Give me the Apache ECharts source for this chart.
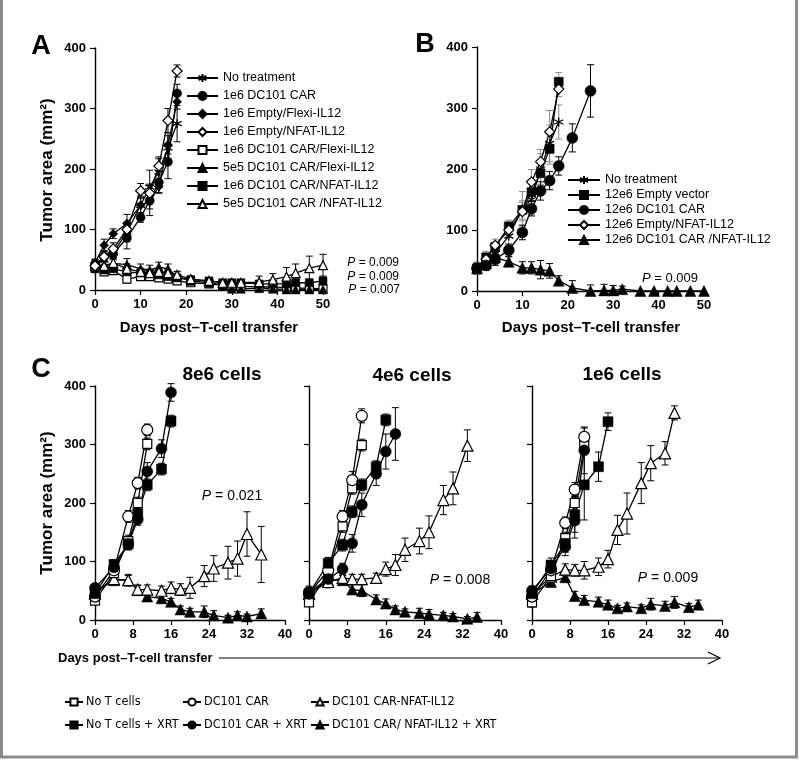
<!DOCTYPE html>
<html><head><meta charset="utf-8">
<script src="https://cdn.jsdelivr.net/npm/echarts@6/dist/echarts.min.js"></script>
<style>html,body{margin:0;padding:0;background:#fff}#c{width:800px;height:761px}</style>
</head><body><div id="c"></div>
<script>
// ---------- Panel A ----------
const aDays = [0,2,4,7,10,12,14,16,18];
const aLongDays = [0,2,4,7,10,12,14,16,18,21,25,28,30,32,36,39,42,44,47,50];
const aNoTreatment = [40,50,62,95,140,170,195,235,275];
const aNoTreatmentErr = [8,8,10,15,15,28,22,25,30];
const aCar = [40,55,60,86,120,148,178,212,325];
const aCarErr = [8,10,10,18,8,25,18,28,15];
const aEmptyFlexi = [45,74,93,110,140,146,171,240,311];
const aEmptyFlexiErr = [6,10,8,15,12,12,10,15,12];
const aEmptyNfat = [40,55,68,100,164,160,205,280,362];
const aEmptyNfatErr = [6,8,10,12,12,15,15,20,10];
const aCarFlexi = [38,30,32,18,22,22,20,18,15,12,10,8,8,6,5,5,4,3,3,2];
const aCarFlexiErr = [6,5,6,6,5,5,5,5,4,4,4,3,3,3,3,3,3,3,3,3];
const a5e5Flexi = [42,40,44,42,35,33,38,35,22,15,12,8,2,2,3,2,1,1,1,1];
const a5e5FlexiErr = [8,8,10,10,8,8,8,8,8,6,6,6,4,4,3,3,3,3,3,3];
const a1e6Nfat = [35,33,35,30,28,28,25,22,20,17,15,12,12,12,10,10,10,12,12,15];
const a1e6NfatErr = [6,6,6,6,6,6,6,6,5,5,5,5,5,5,5,5,6,6,6,6];
const a5e5Nfat = [40,40,45,35,30,28,30,28,25,18,15,12,12,12,13,17,22,28,36,41];
const a5e5NfatErr = [8,8,8,8,6,6,6,6,6,5,5,5,5,5,10,10,15,15,20,18];
const aLegend = ['No treatment','1e6 DC101 CAR','1e6 Empty/Flexi-IL12','1e6 Empty/NFAT-IL12',
  '1e6 DC101 CAR/Flexi-IL12','5e5 DC101 CAR/Flexi-IL12','1e6 DC101 CAR/NFAT-IL12','5e5 DC101 CAR /NFAT-IL12'];
const aPvals = ['0.009','0.009','0.007'];

// ---------- Panel B ----------
const bDays = [0,2,4,7,10,12,14,16,18];
const bCarDays = [0,2,4,7,10,12,14,16,18,21,25];
const bLongDays = [0,2,4,7,10,12,14,16,18,21,25,28,30,32,36,39,42,44,47,50];
const bNoTreatment = [37,50,62,90,135,150,200,242,277];
const bNoTreatmentErr = [10,12,10,15,28,25,25,30,28];
const bEmpty = [37,55,72,106,133,162,193,233,343];
const bEmptyErr = [8,10,8,10,15,15,20,25,15];
const bCar = [37,42,52,67,96,135,164,181,205,251,328];
const bCarErr = [8,8,10,10,12,12,15,15,15,23,43];
const bEmptyNfat = [38,52,75,100,130,179,212,261,331];
const bEmptyNfatErr = [8,10,10,12,15,20,20,35,12];
const bCarNfat = [37,45,55,48,38,38,35,33,17,5,0,1,1,3,0,0,0,0,0,0];
const bCarNfatErr = [10,8,8,8,10,10,15,12,8,12,10,10,8,5,0,0,0,0,0,0];
const bLegend = ['No treatment','12e6 Empty vector','12e6 DC101 CAR','12e6 Empty/NFAT-IL12','12e6 DC101 CAR /NFAT-IL12'];
const bPval = '0.009';

// ---------- Panel C ----------
const cShortDays = [0,4,7,9,11];
const cXrtDays = [0,4,7,9,11,14,16];
const cLongDays = [0,4,7,9,11,14,16,18,20,23,25,28,30,32,35];
// 8e6 cells
const c8NoT = [33,80,135,200,301];           const c8NoTErr = [5,8,10,10,10];
const c8Car = [40,85,177,234,325];           const c8CarErr = [5,10,10,10,10];
const c8NoTXrt = [45,95,130,182,231,258,340]; const c8NoTXrtErr = [5,8,10,10,10,10,10];
const c8CarXrt = [55,90,130,172,254,293,389]; const c8CarXrtErr = [5,8,10,10,15,15,15];
const c8Nfat = [45,70,68,52,52,50,55,52,55,75,88,98,105,147,112];
const c8NfatErr = [5,8,10,8,8,8,10,10,18,18,22,28,30,38,48];
const c8NfatXrt = [50,68,68,51,40,37,31,18,14,14,8,4,8,6,11];
const c8NfatXrtErr = [5,8,8,8,8,8,6,6,6,10,8,4,6,4,8];
// 4e6 cells
const c4CarXrtDays = [0,4,7,9,11,14,16,18];
const c4NfatDays = [0,4,7,9,11,14,16,18,20,23,25,28,30,33];
const c4NfatXrtDays = [0,4,7,9,11,14,16,18,20,23,25,28,30,33,35];
const c4NoT = [30,80,160,225,299];            const c4NoTErr = [5,10,10,10,10];
const c4Car = [45,85,177,239,349];            const c4CarErr = [10,10,10,15,12];
const c4NoTXrt = [45,97,128,185,231,262,342]; const c4NoTXrtErr = [8,10,10,10,10,10,10];
const c4CarXrt = [48,70,87,131,197,250,288,318]; const c4CarXrtErr = [10,10,10,15,20,20,30,45];
const c4Nfat = [45,65,72,70,70,72,87,94,120,135,150,205,225,298];
const c4NfatErr = [10,10,8,8,8,8,12,18,20,22,28,25,28,27];
const c4NfatXrt = [45,68,68,52,50,35,28,18,14,12,10,8,6,2,5];
const c4NfatXrtErr = [8,8,8,8,10,8,8,6,5,8,8,5,5,4,8];
// 1e6 cells
const c1NfatDays = [0,4,7,9,11,14,16,18,20,23,25,28,30];
const c1NfatXrtDays = [0,4,7,9,11,14,16,18,20,23,25,28,30,33,35];
const c1NoT = [30,75,140,200,299];            const c1NoTErr = [8,8,10,12,15];
const c1Car = [40,85,166,223,313];            const c1CarErr = [8,8,10,12,15];
const c1NoTXrt = [45,94,131,180,231,262,339]; const c1NoTXrtErr = [8,12,15,30,60,25,15];
const c1CarXrt = [50,88,125,170,290];         const c1CarXrtErr = [8,12,15,30,40];
const c1Nfat = [45,74,86,85,85,91,104,154,182,234,268,285,354];
const c1NfatErr = [8,10,10,10,15,15,15,25,35,35,30,20,12];
const c1NfatXrt = [45,65,73,41,34,31,26,20,23,20,27,24,30,22,26];
const c1NfatXrtErr = [8,8,8,8,8,8,8,5,6,6,10,8,10,6,8];
const cTitles = ['8e6 cells','4e6 cells','1e6 cells'];
const cPvals = ['0.021','0.008','0.009'];
const cLegend1 = ['No T cells','No T cells + XRT'];
const cLegend2 = ['DC101 CAR','DC101 CAR + XRT'];
const cLegend3 = ['DC101 CAR-NFAT-IL12','DC101 CAR/ NFAT-IL12 + XRT'];

// ---------- helpers ----------
const FONT = '"Liberation Sans", Arial, sans-serif';
const NARROW = '"Liberation Sans Narrow", "DejaVu Sans Condensed", "Liberation Sans", sans-serif';
const ASTER = 'path://M5,0L5,10M0.67,2.5L9.33,7.5M0.67,7.5L9.33,2.5';
const series = [];
function line(name, g, days, vals, sym, open, size) {
  series.push({
    type: 'line', name, xAxisIndex: g, yAxisIndex: g,
    data: days.map((d, i) => [d, vals[i]]),
    symbol: sym, symbolSize: size, showSymbol: true,
    lineStyle: { color: '#000', width: 1.3 },
    itemStyle: open ? { color: '#fff', borderColor: '#000', borderWidth: 1.2 }
                    : { color: '#000', borderColor: '#000', borderWidth: sym === ASTER ? 1.3 : 0.5 },
    z: 3, animation: false, emphasis: { disabled: true }, silent: true
  });
}
function errs(g, days, vals, e, color) {
  series.push({
    type: 'custom', xAxisIndex: g, yAxisIndex: g, silent: true, animation: false, z: 2,
    data: days.map((d, i) => [d, vals[i], e[i]]),
    encode: { x: 0, y: 1 },
    renderItem: (params, api) => {
      const x = api.value(0), y = api.value(1), v = api.value(2);
      if (!v) return null;
      const t = api.coord([x, y + v]);
      const b = api.coord([x, Math.max(0, y - v)]);
      const w = 3.5, st = { stroke: color || '#000', lineWidth: 1 };
      return { type: 'group', children: [
        { type: 'line', shape: { x1: t[0], y1: t[1], x2: b[0], y2: b[1] }, style: st },
        { type: 'line', shape: { x1: t[0] - w, y1: t[1], x2: t[0] + w, y2: t[1] }, style: st },
        { type: 'line', shape: { x1: b[0] - w, y1: b[1], x2: b[0] + w, y2: b[1] }, style: st }
      ]};
    }
  });
}
function both(name, g, days, vals, e, sym, open, size, ecol) {
  errs(g, days, vals, e, ecol);
  line(name, g, days, vals, sym, open, size);
}

// Panel A (grid 0)
both(aLegend[4], 0, aLongDays, aCarFlexi, aCarFlexiErr, 'rect', true, 8);
both(aLegend[5], 0, aLongDays, a5e5Flexi, a5e5FlexiErr, 'triangle', false, 9);
both(aLegend[6], 0, aLongDays, a1e6Nfat, a1e6NfatErr, 'rect', false, 8);
both(aLegend[7], 0, aLongDays, a5e5Nfat, a5e5NfatErr, 'triangle', true, 9);
both(aLegend[0], 0, aDays, aNoTreatment, aNoTreatmentErr, ASTER, false, 9);
both(aLegend[1], 0, aDays, aCar, aCarErr, 'circle', false, 9);
both(aLegend[2], 0, aDays, aEmptyFlexi, aEmptyFlexiErr, 'diamond', false, 9);
both(aLegend[3], 0, aDays, aEmptyNfat, aEmptyNfatErr, 'diamond', true, 10);

// Panel B (grid 1)
both(bLegend[4], 1, bLongDays, bCarNfat, bCarNfatErr, 'triangle', false, 11);
both(bLegend[0], 1, bDays, bNoTreatment, bNoTreatmentErr, ASTER, false, 9, '#888');
both(bLegend[1], 1, bDays, bEmpty, bEmptyErr, 'rect', false, 9, '#888');
both(bLegend[3], 1, bDays, bEmptyNfat, bEmptyNfatErr, 'diamond', true, 10, '#888');
both(bLegend[2], 1, bCarDays, bCar, bCarErr, 'circle', false, 11);

// Panel C (grids 2..4)
function cPanel(g, noT, noTE, car, carE, noTX, noTXE, carXDays, carX, carXE, nfDays, nf, nfE, nfxDays, nfx, nfxE) {
  both(cLegend3[1], g, nfxDays, nfx, nfxE, 'triangle', false, 11);
  both(cLegend3[0], g, nfDays, nf, nfE, 'triangle', true, 11);
  both(cLegend1[0], g, cShortDays, noT, noTE, 'rect', true, 9);
  both(cLegend2[0], g, cShortDays, car, carE, 'circle', true, 11);
  both(cLegend1[1], g, cXrtDays, noTX, noTXE, 'rect', false, 10);
  both(cLegend2[1], g, carXDays, carX, carXE, 'circle', false, 11);
}
cPanel(2, c8NoT, c8NoTErr, c8Car, c8CarErr, c8NoTXrt, c8NoTXrtErr, cXrtDays, c8CarXrt, c8CarXrtErr,
       cLongDays, c8Nfat, c8NfatErr, cLongDays, c8NfatXrt, c8NfatXrtErr);
cPanel(3, c4NoT, c4NoTErr, c4Car, c4CarErr, c4NoTXrt, c4NoTXrtErr, c4CarXrtDays, c4CarXrt, c4CarXrtErr,
       c4NfatDays, c4Nfat, c4NfatErr, c4NfatXrtDays, c4NfatXrt, c4NfatXrtErr);
cPanel(4, c1NoT, c1NoTErr, c1Car, c1CarErr, c1NoTXrt, c1NoTXrtErr, cShortDays, c1CarXrt, c1CarXrtErr,
       c1NfatDays, c1Nfat, c1NfatErr, c1NfatXrtDays, c1NfatXrt, c1NfatXrtErr);

// ---------- axes ----------
const grids = [
  { left: 95, top: 48, width: 228, height: 242 },
  { left: 477, top: 47, width: 227, height: 244 },
  { left: 95, top: 386, width: 190, height: 234 },
  { left: 309, top: 386, width: 192, height: 234 },
  { left: 532, top: 386, width: 190, height: 234 }
];
const axLine = { show: true, lineStyle: { color: '#000', width: 1.4 } };
const axTick = { show: true, length: 5, lineStyle: { color: '#000', width: 1.2 } };
const axLab = { color: '#000', fontWeight: 'bold', fontSize: 13, fontFamily: FONT };
const xAxis = grids.map((g, i) => ({
  type: 'value', gridIndex: i, min: 0, max: i < 2 ? 50 : 40, interval: i < 2 ? 10 : 8,
  axisLine: axLine, axisTick: axTick, splitLine: { show: false },
  axisLabel: Object.assign({ margin: 8 }, axLab)
}));
const yAxis = grids.map((g, i) => ({
  type: 'value', gridIndex: i, min: 0, max: 400, interval: 100,
  axisLine: axLine, axisTick: axTick, splitLine: { show: false },
  axisLabel: Object.assign({ margin: 9, show: i < 3 }, axLab)
}));

// ---------- legends ----------
const legTxt = { color: '#000', fontSize: 12.5, fontFamily: FONT, lineHeight: 14 };
const legends = [
  { data: aLegend, left: 186, top: 71, orient: 'vertical', itemWidth: 31, itemHeight: 10, itemGap: 4,
    textStyle: legTxt, padding: 0, selectedMode: false },
  { data: bLegend, left: 567, top: 173, orient: 'vertical', itemWidth: 32, itemHeight: 10, itemGap: 1,
    textStyle: legTxt, padding: 0, selectedMode: false }
];
[[cLegend1, 64], [cLegend2, 182], [cLegend3, 310]].forEach(([d, l]) => legends.push({
  data: d, left: l, top: 695, orient: 'vertical', itemWidth: 18, itemHeight: 9, itemGap: 9,
  textStyle: { color: '#000', fontSize: 12.5, fontFamily: NARROW, lineHeight: 14, padding: [0, 0, 0, -2] },
  padding: 0, selectedMode: false
}));

// ---------- texts ----------
const boldT = (t, x, y, size, align, extra) => Object.assign({
  type: 'text', x, y, silent: true,
  style: { text: t, fontSize: size, fontWeight: 'bold', fontFamily: FONT, fill: '#000',
           align: align || 'center', verticalAlign: 'middle' }
}, extra || {});
const pT = (v, x, y, size, align) => ({
  type: 'text', x, y, silent: true,
  style: { text: '{i|P} = ' + v, fontSize: size, fontFamily: FONT, fill: '#000',
           align: align || 'left', verticalAlign: 'middle',
           rich: { i: { fontStyle: 'italic', fontSize: size, fontFamily: FONT, fill: '#000' } } }
});
const graphic = [
  { type: 'rect', silent: true, shape: { x: 1.5, y: -5, width: 795, height: 762 },
    style: { fill: null, stroke: '#8c8c8c', lineWidth: 3 } },
  boldT('A', 41, 47, 27), boldT('B', 425, 45, 27), boldT('C', 41, 370, 27),
  boldT('Tumor area (mm²)', 47, 170, 17, 'center', { rotation: Math.PI / 2 }),
  boldT('Tumor area (mm²)', 47, 503, 17, 'center', { rotation: Math.PI / 2 }),
  boldT('Days post–T-cell transfer', 209, 328, 15),
  boldT('Days post–T-cell transfer', 591, 328, 15),
  boldT('Days post–T-cell transfer', 58, 658, 13, 'left'),
  { type: 'line', silent: true, shape: { x1: 219, y1: 658, x2: 719, y2: 658 }, style: { stroke: '#000', lineWidth: 1.2 } },
  { type: 'polyline', silent: true, shape: { points: [[708, 652], [720, 658], [708, 664]] }, style: { stroke: '#000', fill: null, lineWidth: 1.2 } },
  boldT(cTitles[0], 222, 375, 19), boldT(cTitles[1], 412, 376, 19), boldT(cTitles[2], 622, 375, 19),
  pT(aPvals[0], 399, 263, 12, 'right'), pT(aPvals[1], 399, 277, 12, 'right'), pT(aPvals[2], 400, 290, 12, 'right'),
  pT(bPval, 670, 278, 13, 'center'),
  pT(cPvals[0], 232, 496, 14, 'center'), pT(cPvals[1], 460, 580, 14, 'center'), pT(cPvals[2], 668, 578, 14, 'center')
];

const chart = echarts.init(document.getElementById('c'), null, { renderer: 'canvas' });
chart.setOption({
  animation: false, backgroundColor: '#fff',
  grid: grids, xAxis, yAxis, legend: legends, series, graphic
});
</script></body></html>
